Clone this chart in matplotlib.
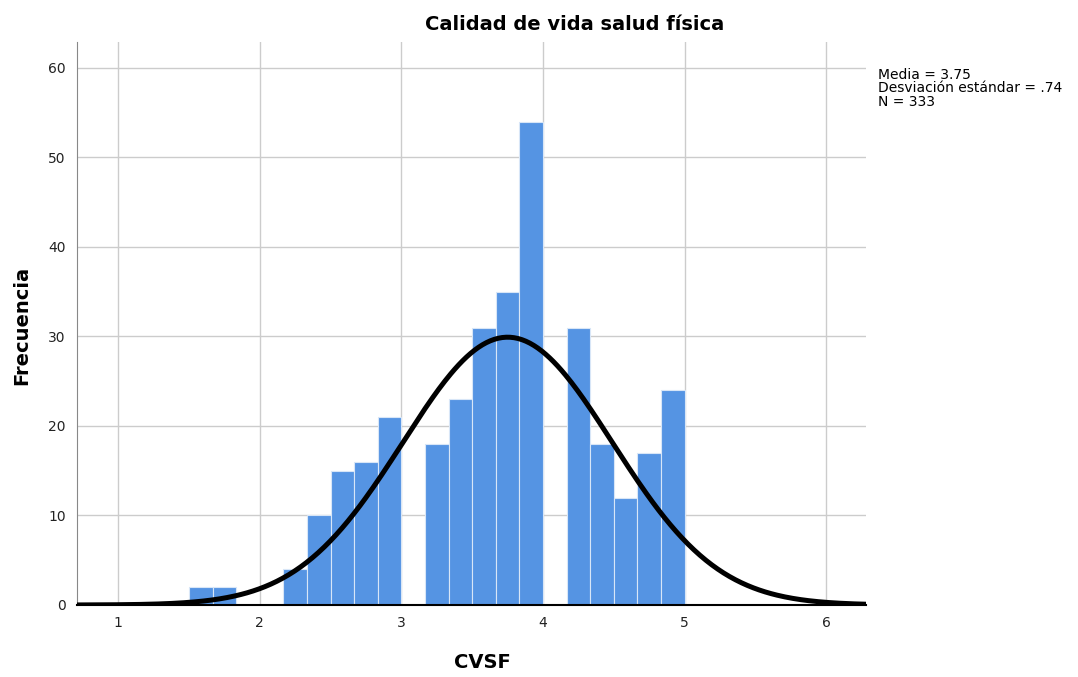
import numpy as np
import matplotlib.pyplot as plt

# Histogram counts for CVSF (bins of width 1/6 starting at 1.5)
bin_start = 1.5
bin_width = 1 / 6
counts = [2, 2, 0, 0, 4, 10, 15, 16, 21, 0, 18, 23, 31, 35, 54, 0, 31, 18, 12, 17, 24]
media = 3.75
desv = 0.74
n = 333

edges = bin_start + bin_width * np.arange(len(counts))

fig = plt.figure(figsize=(10.78, 6.77), dpi=100)
ax = fig.add_axes([77 / 1078, 72 / 677, 789 / 1078, 563 / 677])

ax.bar(edges, counts, width=bin_width, align='edge', color='#5594e3',
       edgecolor='#d8e6f7', linewidth=0.8, zorder=2)

# normal curve scaled to counts
xs = np.linspace(0.71, 6.28, 400)
ys = n * bin_width * np.exp(-0.5 * ((xs - media) / desv) ** 2) / (desv * np.sqrt(2 * np.pi))
ax.plot(xs, ys, color='black', linewidth=3.6, zorder=3, solid_capstyle='butt')

ax.set_xlim(0.71, 6.28)
ax.set_ylim(0, 62.9)
ax.set_xticks([1, 2, 3, 4, 5, 6])
ax.set_yticks([0, 10, 20, 30, 40, 50, 60])
ax.grid(True, color='#cccccc', linewidth=1.0, zorder=0)
ax.set_axisbelow(True)
ax.tick_params(length=0, labelsize=10, pad=8, colors='#222222')

for s in ['top', 'right']:
    ax.spines[s].set_visible(False)
ax.spines['left'].set_color('#888888')
ax.spines['bottom'].set_color('black')
ax.spines['bottom'].set_linewidth(1.5)

fig.text(575 / 1078, 1 - 25 / 677, 'Calidad de vida salud física', ha='center', va='center',
         fontsize=14, fontweight='bold')
fig.text(482 / 1078, 1 - 662 / 677, 'CVSF', ha='center', va='center',
         fontsize=14, fontweight='bold')
fig.text(22 / 1078, 1 - 325 / 677, 'Frecuencia', ha='center', va='center',
         fontsize=14, fontweight='bold', rotation=90)
fig.text(878 / 1078, 1 - 68 / 677,
         'Media = 3.75\nDesviación estándar = .74\nN = 333',
         ha='left', va='top', fontsize=10, linespacing=0.95)

plt.savefig('out.png', dpi=100)
